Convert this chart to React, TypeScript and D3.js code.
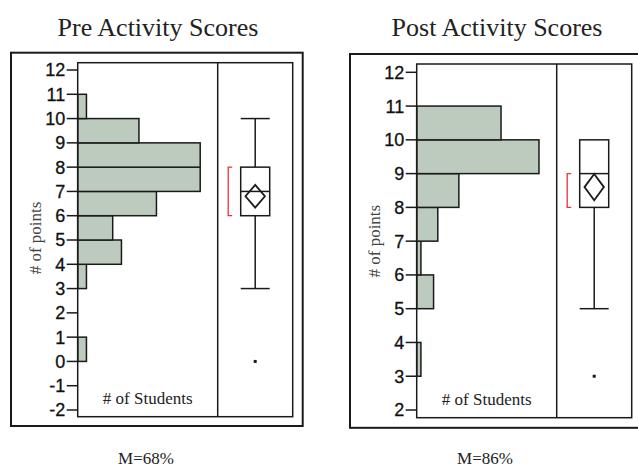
import React from "react";
import * as d3 from "d3";

// ---- data ----
const preBinStarts = [0, 3, 4, 5, 6, 7, 8, 9, 10];
const preCounts = [1, 1, 5, 4, 9, 14, 14, 7, 1];
const preBoxStats = [3, 6, 7, 8, 10]; // min, q1, median, q3, max
const preOutliers = [0];
const preMean = 6.8;
const preMeanCI = 0.47;
const preShortest = [6, 8];
const preTicks = [-2, -1, 0, 1, 2, 3, 4, 5, 6, 7, 8, 9, 10, 11, 12];

const postBinStarts = [3, 5, 6, 7, 8, 9, 10];
const postCounts = [1, 4, 1, 5, 10, 29, 20];
const postBoxStats = [5, 8, 9, 10, 10];
const postOutliers = [3];
const postMean = 8.6;
const postMeanCI = 0.39;
const postShortest = [8, 9];
const postTicks = [2, 3, 4, 5, 6, 7, 8, 9, 10, 11, 12];

const titles = ["Pre Activity Scores", "Post Activity Scores"];
const meanLabels = ["M=68%", "M=86%"];

const BAR_FILL = "#bccbbd";
const INK = "#1a1a1a";
const SERIF = "Liberation Serif, Times New Roman, serif";
const SANS = "Arial, Liberation Sans, sans-serif";

type PanelProps = {
  title: string;
  meanLabel: string;
  outer: { x0: number; y0: number; x1: number; y1: number };
  inner: { x0: number; y0: number; xm: number; x1: number; y1: number };
  yDomain: [number, number];
  yRange: [number, number];
  xMax: number;
  ticks: number[];
  binStarts: number[];
  counts: number[];
  box: number[];
  outliers: number[];
  mean: number;
  ci: number;
  shortest: number[];
  titleX: number;
  labelX: number;
};

function Panel(p: PanelProps) {
  const y = d3.scaleLinear().domain(p.yDomain).range(p.yRange);
  const x = d3.scaleLinear().domain([0, p.xMax]).range([p.inner.x0, p.inner.xm]);
  const cx = (p.inner.xm + p.inner.x1) / 2;
  const bw = 14.5;
  const dw = 9.7;
  const [mn, q1, med, q3, mx] = p.box;
  return (
    <g>
      <text x={p.titleX} y={35.5} textAnchor="middle" fontFamily={SERIF} fontSize={26} fill="#222">
        {p.title}
      </text>
      <rect x={p.outer.x0} y={p.outer.y0} width={p.outer.x1 - p.outer.x0} height={p.outer.y1 - p.outer.y0}
        fill="#fff" stroke={INK} strokeWidth={2} />
      {/* bars */}
      {p.binStarts.map((b, i) => (
        <rect key={i} x={x(0)} y={y(b + 1)} width={x(p.counts[i]) - x(0)} height={y(b) - y(b + 1)}
          fill={BAR_FILL} stroke={INK} strokeWidth={1.5} />
      ))}
      {/* inner frame */}
      <rect x={p.inner.x0} y={p.inner.y0} width={p.inner.x1 - p.inner.x0} height={p.inner.y1 - p.inner.y0}
        fill="none" stroke={INK} strokeWidth={1.5} />
      <line x1={p.inner.xm} x2={p.inner.xm} y1={p.inner.y0} y2={p.inner.y1} stroke={INK} strokeWidth={1.5} />
      {/* ticks */}
      {p.ticks.map((t) => (
        <g key={t}>
          <line x1={p.inner.x0 - 11} x2={p.inner.x0} y1={y(t)} y2={y(t)} stroke={INK} strokeWidth={1.5} />
          <text x={p.inner.x0 - 12.5} y={y(t)} dy="0.36em" textAnchor="end" fontFamily={SANS} fontSize={18}
            fill="#111" stroke="#111" strokeWidth={0.3}>
            {t < 0 ? "-" + Math.abs(t) : String(t)}
          </text>
        </g>
      ))}
      {/* axis labels */}
      <text transform={`translate(${p.labelX},${(p.yRange[0] + p.yRange[1]) / 2 + (p.inner.y0 < 63 ? -2 : 0)}) rotate(-90)`}
        textAnchor="middle" fontFamily={SERIF} fontSize={17} fill="#444">
        # of points
      </text>
      <text x={(p.inner.x0 + p.inner.xm) / 2} y={p.inner.y1 - 12.5} textAnchor="middle" fontFamily={SERIF} fontSize={17} fill="#222">
        # of Students
      </text>
      {/* box plot */}
      {mx > q3 && (
        <>
          <line x1={cx} x2={cx} y1={y(mx)} y2={y(q3)} stroke={INK} strokeWidth={1.5} />
          <line x1={cx - bw} x2={cx + bw} y1={y(mx)} y2={y(mx)} stroke={INK} strokeWidth={1.5} />
        </>
      )}
      <line x1={cx} x2={cx} y1={y(q1)} y2={y(mn)} stroke={INK} strokeWidth={1.5} />
      <line x1={cx - bw} x2={cx + bw} y1={y(mn)} y2={y(mn)} stroke={INK} strokeWidth={1.5} />
      <rect x={cx - bw} y={y(q3)} width={2 * bw} height={y(q1) - y(q3)} fill="#fff" stroke={INK} strokeWidth={1.5} />
      <line x1={cx - bw} x2={cx + bw} y1={y(med)} y2={y(med)} stroke={INK} strokeWidth={1.5} />
      <path
        d={`M${cx},${y(p.mean + p.ci)} L${cx + dw},${y(p.mean)} L${cx},${y(p.mean - p.ci)} L${cx - dw},${y(p.mean)} Z`}
        fill="none" stroke={INK} strokeWidth={1.8} />
      {/* shortest half bracket */}
      <path
        d={`M${p.inner.xm + 14.5},${y(p.shortest[1])} H${p.inner.xm + 10.5} V${y(p.shortest[0])} H${p.inner.xm + 14.5}`}
        fill="none" stroke="#e8323c" strokeWidth={1.3} />
      {p.outliers.map((o, i) => (
        <rect key={i} x={cx - 1.5} y={y(o) - 1.5} width={3} height={3} fill={INK} />
      ))}
      <text x={p.titleX - 12} y={463.5} textAnchor="middle" fontFamily={SERIF} fontSize={17} fill="#222">
        {p.meanLabel}
      </text>
    </g>
  );
}

export default function App() {
  return (
    <svg width={638} height={467} style={{ position: "absolute", left: 0, top: 0, background: "#fff" }}>
      <rect width={638} height={467} fill="#fff" />
      <Panel
        title={titles[0]}
        meanLabel={meanLabels[0]}
        titleX={158}
        labelX={41}
        outer={{ x0: 11, y0: 52.7, x1: 302.7, y1: 426 }}
        inner={{ x0: 77.7, y0: 62.7, xm: 217.7, x1: 292.7, y1: 416.7 }}
        yDomain={[-2, 12]}
        yRange={[410, 70]}
        xMax={16}
        ticks={preTicks}
        binStarts={preBinStarts}
        counts={preCounts}
        box={preBoxStats}
        outliers={preOutliers}
        mean={preMean}
        ci={preMeanCI}
        shortest={preShortest}
      />
      <Panel
        title={titles[1]}
        meanLabel={meanLabels[1]}
        titleX={497}
        labelX={380}
        outer={{ x0: 350, y0: 54, x1: 645, y1: 427.8 }}
        inner={{ x0: 416.7, y0: 64, xm: 556.7, x1: 631.7, y1: 417.7 }}
        yDomain={[2, 12]}
        yRange={[410, 72.3]}
        xMax={33.2}
        ticks={postTicks}
        binStarts={postBinStarts}
        counts={postCounts}
        box={postBoxStats}
        outliers={postOutliers}
        mean={postMean}
        ci={postMeanCI}
        shortest={postShortest}
      />
    </svg>
  );
}
